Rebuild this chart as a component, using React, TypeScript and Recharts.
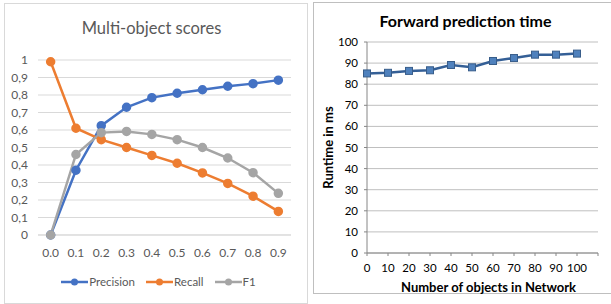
import { LineChart, Line, XAxis, YAxis, CartesianGrid, Legend } from "recharts";

const thresholds = ["0.0", "0.1", "0.2", "0.3", "0.4", "0.5", "0.6", "0.7", "0.8", "0.9"];
const precision = [0, 0.37, 0.625, 0.73, 0.785, 0.81, 0.83, 0.85, 0.865, 0.885];
const recall = [0.99, 0.61, 0.545, 0.5, 0.455, 0.41, 0.355, 0.295, 0.222, 0.135];
const f1 = [0, 0.46, 0.585, 0.592, 0.575, 0.545, 0.5, 0.44, 0.356, 0.238];
const scoreTicks = [0, 0.1, 0.2, 0.3, 0.4, 0.5, 0.6, 0.7, 0.8, 0.9, 1];

const objectCounts = [0, 10, 20, 30, 40, 50, 60, 70, 80, 90, 100];
const runtimeMs = [85.1, 85.4, 86.3, 86.6, 89.1, 88.0, 91.0, 92.4, 94.0, 94.0, 94.5];
const runtimeTicks = [0, 10, 20, 30, 40, 50, 60, 70, 80, 90, 100];
const countTicks = [0, 10, 20, 30, 40, 50, 60, 70, 80, 90, 100, 110];

const scoreData = thresholds.map((t, i) => ({
  t,
  precision: precision[i],
  recall: recall[i],
  f1: f1[i],
}));

const series = [
  { key: "precision", name: "Precision", color: "#4472C4" },
  { key: "recall", name: "Recall", color: "#ED7D31" },
  { key: "f1", name: "F1", color: "#A5A5A5" },
];

const runtimeData = objectCounts.map((n, i) => ({ n, ms: runtimeMs[i] }));

const FONT = "Lato, 'Open Sans', sans-serif";

function ScoreLegend() {
  return (
    <div style={{ display: "flex", justifyContent: "center", gap: 11, fontFamily: FONT, fontSize: 11.5, color: "#595959" }}>
      {series.map((s) => (
        <div key={s.key} style={{ display: "flex", alignItems: "center", gap: 1 }}>
          <svg width={27} height={10}>
            <line x1={0} y1={5} x2={27} y2={5} stroke={s.color} strokeWidth={2.5} />
            <circle cx={13.5} cy={5} r={3.5} fill={s.color} />
          </svg>
          <span>{s.name}</span>
        </div>
      ))}
    </div>
  );
}

function SquareDot(props: any) {
  const { cx, cy, index } = props;
  return (
    <rect key={index} x={cx - 3.5} y={cy - 3.5} width={7} height={7} fill="#4F81BD" stroke="#385D8A" strokeWidth={1} />
  );
}

export default function App() {
  return (
    <div style={{ position: "absolute", left: 0, top: 0, width: 611, height: 304, background: "#fff", overflow: "hidden" }}>
      {/* left panel */}
      <div style={{ position: "absolute", left: 4, top: 3, width: 302, height: 299, border: "1px solid #d9d9d9" }} />
      <div
        style={{
          position: "absolute",
          left: 0,
          width: 303,
          top: 18,
          textAlign: "center",
          fontFamily: FONT,
          fontSize: 16.5,
          color: "#595959",
        }}
      >
        Multi-object scores
      </div>
      <div style={{ position: "absolute", left: 4, top: 3 }}>
        <LineChart width={303} height={300} data={scoreData} margin={{ top: 57, right: 16, left: 0, bottom: 30 }}>
          <CartesianGrid vertical={false} stroke="#d9d9d9" />
          <XAxis
            dataKey="t"
            padding={{ left: 12.65, right: 12.65 }}
            axisLine={{ stroke: "#d9d9d9" }}
            tickLine={false}
            tickSize={0}
            tickMargin={13}
            height={25}
            interval={0}
            tick={{ fill: "#595959", fontSize: 12, fontFamily: FONT }}
          />
          <YAxis
            domain={[0, 1]}
            ticks={scoreTicks}
            interval={0}
            width={34}
            axisLine={false}
            tickLine={false}
            tickSize={0}
            tickMargin={10}
            tickFormatter={(v: number) => String(v).replace(".", ",")}
            tick={{ fill: "#595959", fontSize: 12, fontFamily: FONT }}
          />
          <Legend verticalAlign="bottom" content={<ScoreLegend />} wrapperStyle={{ bottom: 15, left: 3, width: 303 }} />
          {series.map((s) => (
            <Line
              key={s.key}
              dataKey={s.key}
              name={s.name}
              stroke={s.color}
              strokeWidth={2.5}
              dot={{ r: 3.5, fill: s.color, stroke: s.color }}
              isAnimationActive={false}
            />
          ))}
        </LineChart>
      </div>

      {/* right panel */}
      <div style={{ position: "absolute", left: 313, top: 2, width: 310, height: 290, border: "1px solid #bfbfbf" }} />
      <div
        style={{
          position: "absolute",
          left: 313,
          width: 305,
          top: 11,
          textAlign: "center",
          fontFamily: FONT,
          fontWeight: "bold",
          fontSize: 16,
          color: "#000",
        }}
      >
        Forward prediction time
      </div>
      <div style={{ position: "absolute", left: 313, top: 2 }}>
        <LineChart width={298} height={300} data={runtimeData} margin={{ top: 40, right: 13, left: 0, bottom: 9 }}>
          <CartesianGrid vertical={false} stroke="#bfbfbf" />
          <XAxis
            dataKey="n"
            type="number"
            domain={[0, 110]}
            ticks={countTicks}
            interval={0}
            tickFormatter={(v: number) => (v === 110 ? "" : String(v))}
            axisLine={{ stroke: "#868686" }}
            tickLine={{ stroke: "#868686" }}
            tickSize={3}
            tickMargin={8}
            height={40}
            tick={{ fill: "#000", fontSize: 11.5, fontFamily: FONT }}
            label={{ value: "Number of objects in Network", position: "insideBottom", offset: 1, dx: 6, fill: "#000", fontSize: 13, fontWeight: "bold", fontFamily: FONT }}
          />
          <YAxis
            domain={[0, 100]}
            ticks={runtimeTicks}
            interval={0}
            width={54}
            axisLine={{ stroke: "#868686" }}
            tickLine={{ stroke: "#868686" }}
            tickSize={3}
            tickMargin={6}
            tick={{ fill: "#000", fontSize: 11.5, fontFamily: FONT }}
            label={{ value: "Runtime in ms", angle: -90, position: "center", dx: -12, fill: "#000", fontSize: 13, fontWeight: "bold", fontFamily: FONT }}
          />
          <Line dataKey="ms" stroke="#345F96" strokeWidth={2.5} dot={<SquareDot />} isAnimationActive={false} />
        </LineChart>
      </div>
    </div>
  );
}
